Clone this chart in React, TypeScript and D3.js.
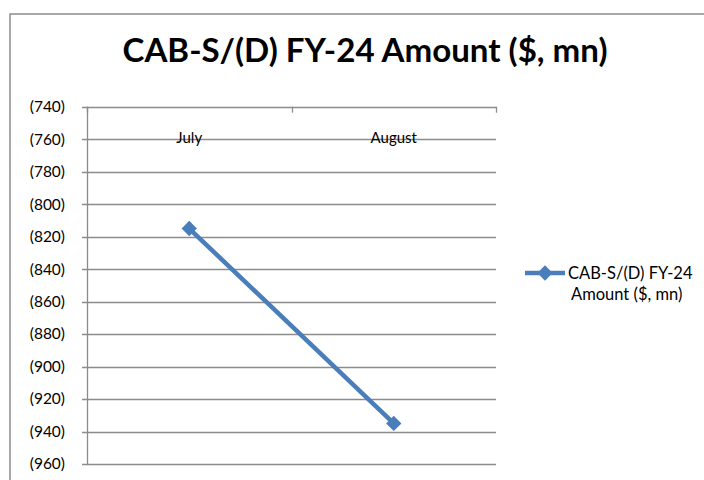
import { useEffect, useRef } from "react";
import * as d3 from "d3";

const WIDTH = 704;
const HEIGHT = 480;
const PLOT = { left: 87, right: 496, top: 106.7, bottom: 464 };

const TITLE = "CAB-S/(D) FY-24 Amount ($, mn)";
const SERIES_NAME = ["CAB-S/(D) FY-24", "Amount ($, mn)"];
const months = ["July", "August"];
const amounts = [-815, -935];
const yTicks = [-740, -760, -780, -800, -820, -840, -860, -880, -900, -920, -940, -960];

const BLUE = "#4A7EBB";
const GRID = "#8C8C8C";
const FONT = "Lato, 'Open Sans', sans-serif";

const fmt = (v: number) => (v < 0 ? `(${Math.abs(v)})` : `${v}`);

export default function App() {
  const svgRef = useRef<SVGSVGElement>(null);

  useEffect(() => {
    if (!svgRef.current) return;
    const svg = d3.select(svgRef.current);
    svg.selectAll("*").remove();

    svg.append("rect").attr("width", WIDTH).attr("height", HEIGHT).attr("fill", "#fff");

    // chart border (runs off the right and bottom edges)
    svg
      .append("rect")
      .attr("x", 10)
      .attr("y", 14)
      .attr("width", WIDTH + 20)
      .attr("height", HEIGHT + 20)
      .attr("fill", "none")
      .attr("stroke", GRID)
      .attr("stroke-width", 1.5);

    svg
      .append("text")
      .attr("x", 365)
      .attr("y", 62)
      .attr("text-anchor", "middle")
      .attr("font-family", FONT)
      .attr("font-weight", 700)
      .attr("font-size", 33)
      .attr("textLength", 485)
      .attr("lengthAdjust", "spacingAndGlyphs")
      .attr("fill", "#000")
      .text(TITLE);

    const x = d3
      .scaleBand()
      .domain(months)
      .range([PLOT.left, PLOT.right]);

    const y = d3
      .scaleLinear()
      .domain([-960, -740])
      .range([PLOT.bottom, PLOT.top]);

    const g = svg.append("g");

    // horizontal gridlines
    g.selectAll("line.grid")
      .data(yTicks)
      .join("line")
      .attr("class", "grid")
      .attr("x1", PLOT.left - 5)
      .attr("x2", PLOT.right)
      .attr("y1", (d) => Math.round(y(d)) + 0.5)
      .attr("y2", (d) => Math.round(y(d)) + 0.5)
      .attr("stroke", GRID)
      .attr("stroke-width", 1.3);

    // value axis line
    g.append("line")
      .attr("x1", PLOT.left + 0.5)
      .attr("x2", PLOT.left + 0.5)
      .attr("y1", y(-740))
      .attr("y2", y(-960))
      .attr("stroke", GRID)
      .attr("stroke-width", 1.3);

    g.selectAll("text.ylab")
      .data(yTicks)
      .join("text")
      .attr("class", "ylab")
      .attr("x", 65)
      .attr("y", (d) => y(d))
      .attr("dy", "0.35em")
      .attr("text-anchor", "end")
      .attr("font-family", FONT)
      .attr("font-size", 15.5)
      .attr("fill", "#000")
      .text((d) => fmt(d));

    // category axis sits at the top; tick marks point down
    const edges = [PLOT.left, ...months.map((m) => (x(m) ?? 0) + x.bandwidth())];
    g.selectAll("line.xtick")
      .data(edges)
      .join("line")
      .attr("class", "xtick")
      .attr("x1", (d) => Math.round(d) + 0.5)
      .attr("x2", (d) => Math.round(d) + 0.5)
      .attr("y1", y(-740))
      .attr("y2", y(-740) + 6)
      .attr("stroke", GRID)
      .attr("stroke-width", 1.3);

    g.selectAll("text.xlab")
      .data(months)
      .join("text")
      .attr("class", "xlab")
      .attr("x", (d) => (x(d) ?? 0) + x.bandwidth() / 2)
      .attr("y", y(-760) + 4)
      .attr("text-anchor", "middle")
      .attr("font-family", FONT)
      .attr("font-size", 15)
      .attr("fill", "#000")
      .text((d) => d);

    const line = d3
      .line<number>()
      .x((_, i) => (x(months[i]) ?? 0) + x.bandwidth() / 2)
      .y((d) => y(d));

    g.append("path")
      .datum(amounts)
      .attr("d", line)
      .attr("fill", "none")
      .attr("stroke", BLUE)
      .attr("stroke-width", 4.5);

    const diamond = d3.symbol().type(d3.symbolDiamond2).size(150);
    g.selectAll("path.mark")
      .data(amounts)
      .join("path")
      .attr("class", "mark")
      .attr("d", diamond)
      .attr("transform", (d, i) => `translate(${(x(months[i]) ?? 0) + x.bandwidth() / 2},${y(d)})`)
      .attr("fill", BLUE);

    // legend
    const lg = svg.append("g").attr("transform", "translate(525,273)");
    lg.append("line")
      .attr("x1", 0)
      .attr("x2", 40)
      .attr("stroke", BLUE)
      .attr("stroke-width", 4.5);
    lg.append("path").attr("d", diamond).attr("transform", "translate(20,0)").attr("fill", BLUE);
    lg.selectAll("text")
      .data(SERIES_NAME)
      .join("text")
      .attr("x", (_, i) => (i === 0 ? 43 : 46))
      .attr("y", (_, i) => i * 21)
      .attr("dy", "0.35em")
      .attr("font-family", FONT)
      .attr("font-size", 16.5)
      .attr("fill", "#000")
      .text((d) => d);
  }, []);

  return (
    <svg
      ref={svgRef}
      width={WIDTH}
      height={HEIGHT}
      style={{ position: "absolute", left: 0, top: 0, display: "block" }}
    />
  );
}
